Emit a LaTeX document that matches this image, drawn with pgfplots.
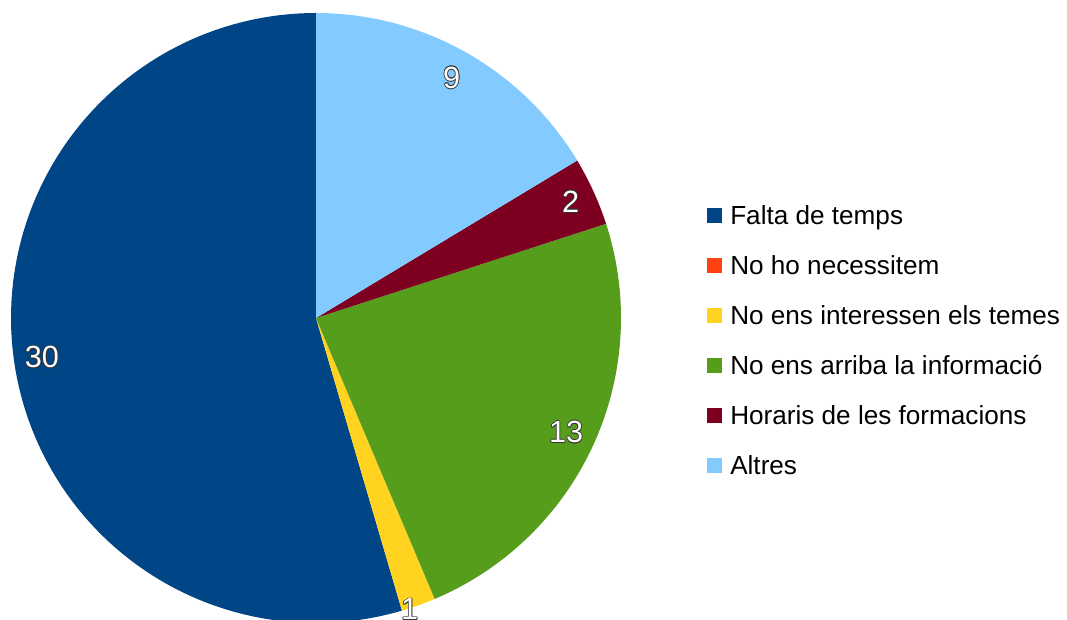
\documentclass[border=0pt]{standalone}
\usepackage{pgfplots}
\pgfplotsset{compat=1.18}
\usepackage{fontspec}
\setmainfont{Liberation Sans}
\definecolor{c1}{HTML}{004586}
\definecolor{c2}{HTML}{FF420E}
\definecolor{c3}{HTML}{FFD320}
\definecolor{c4}{HTML}{579D1C}
\definecolor{c5}{HTML}{7E0021}
\definecolor{c6}{HTML}{83CAFF}
\newcommand\lblfont{\fontsize{23}{27}\selectfont}
\newcommand\olab[2]{%
  \foreach \dx/\dy in {0.6/0,-0.6/0,0/0.6,0/-0.6,0.43/0.43,-0.43/0.43,0.43/-0.43,-0.43/-0.43}{%
    \node[text=black!80,font=\lblfont,inner sep=0pt] at ([shift={(\dx pt,\dy pt)}]#1) {#2};}%
  \node[text=white,font=\lblfont,inner sep=0pt] at (#1) {#2};}
\begin{document}
\begin{tikzpicture}
% data values
\def\vA{30}\def\vB{0}\def\vC{1}\def\vD{13}\def\vE{2}\def\vF{9}
\pgfmathsetmacro\tot{\vA+\vB+\vC+\vD+\vE+\vF}
\pgfmathsetmacro\aA{90}
\pgfmathsetmacro\aB{\aA+360*\vA/\tot}
\pgfmathsetmacro\aC{\aB+360*\vB/\tot}
\pgfmathsetmacro\aD{\aC+360*\vC/\tot}
\pgfmathsetmacro\aE{\aD+360*\vD/\tot}
\pgfmathsetmacro\aF{\aE+360*\vE/\tot}
\pgfmathsetmacro\aG{\aF+360*\vF/\tot}
\begin{axis}[scale only axis, width=800.25pt, height=465pt,
  xmin=0, xmax=1067, ymin=0, ymax=620, hide axis, clip=true,
  legend image code/.code={\fill[#1] (0pt,-3.5pt) rectangle (11.25pt,7.75pt);},
  legend style={at={(0.6626,0.4468)}, anchor=west, draw=none, fill=none,
    inner sep=0pt, font=\fontsize{19.6}{23}\selectfont, row sep=19.5pt,
    cells={anchor=west},
    nodes={inner sep=0pt, text height=14pt, text depth=4pt},
    /tikz/every odd column/.append style={column sep=6pt}},
]
\addplot[fill=c1, draw=none, domain=\aA:\aB, samples=150, variable=\t]
  ({316+305*cos(\t)},{302+305*sin(\t)}) -- (axis cs:316,302) -- cycle;
\addlegendentry{Falta de temps}
\addlegendimage{fill=c2, draw=none}
\addlegendentry{No ho necessitem}
\addplot[fill=c3, draw=none, domain=\aC:\aD, samples=10, variable=\t]
  ({316+305*cos(\t)},{302+305*sin(\t)}) -- (axis cs:316,302) -- cycle;
\addlegendentry{No ens interessen els temes}
\addplot[fill=c4, draw=none, domain=\aD:\aE, samples=80, variable=\t]
  ({316+305*cos(\t)},{302+305*sin(\t)}) -- (axis cs:316,302) -- cycle;
\addlegendentry{No ens arriba la informació}
\addplot[fill=c5, draw=none, domain=\aE:\aF, samples=15, variable=\t]
  ({316+305*cos(\t)},{302+305*sin(\t)}) -- (axis cs:316,302) -- cycle;
\addlegendentry{Horaris de les formacions}
\addplot[fill=c6, draw=none, domain=\aF:\aG, samples=60, variable=\t]
  ({316+305*cos(\t)},{302+305*sin(\t)}) -- (axis cs:316,302) -- cycle;
\addlegendentry{Altres}
\coordinate (LA) at (axis cs:{316+277*cos((\aA+\aB)/2)},{302+277*sin((\aA+\aB)/2)});
\coordinate (LC) at (axis cs:{316+306*cos((\aC+\aD)/2-1.8)},{302+306*sin((\aC+\aD)/2-1.8)});
\coordinate (LD) at (axis cs:{316+275*cos((\aD+\aE)/2)},{302+275*sin((\aD+\aE)/2)});
\coordinate (LE) at (axis cs:{316+280*cos((\aE+\aF)/2)},{302+280*sin((\aE+\aF)/2)});
\coordinate (LF) at (axis cs:{316+276*cos((\aF+\aG)/2)},{302+276*sin((\aF+\aG)/2)});
\coordinate (SW) at (rel axis cs:0,0);
\coordinate (NE) at (rel axis cs:1,1);
\end{axis}
\olab{LA}{30}
\olab{LC}{1}
\olab{LD}{13}
\olab{LE}{2}
\olab{LF}{9}
\pgfresetboundingbox
\path[use as bounding box] (SW) rectangle (NE);
\end{tikzpicture}
\end{document}
